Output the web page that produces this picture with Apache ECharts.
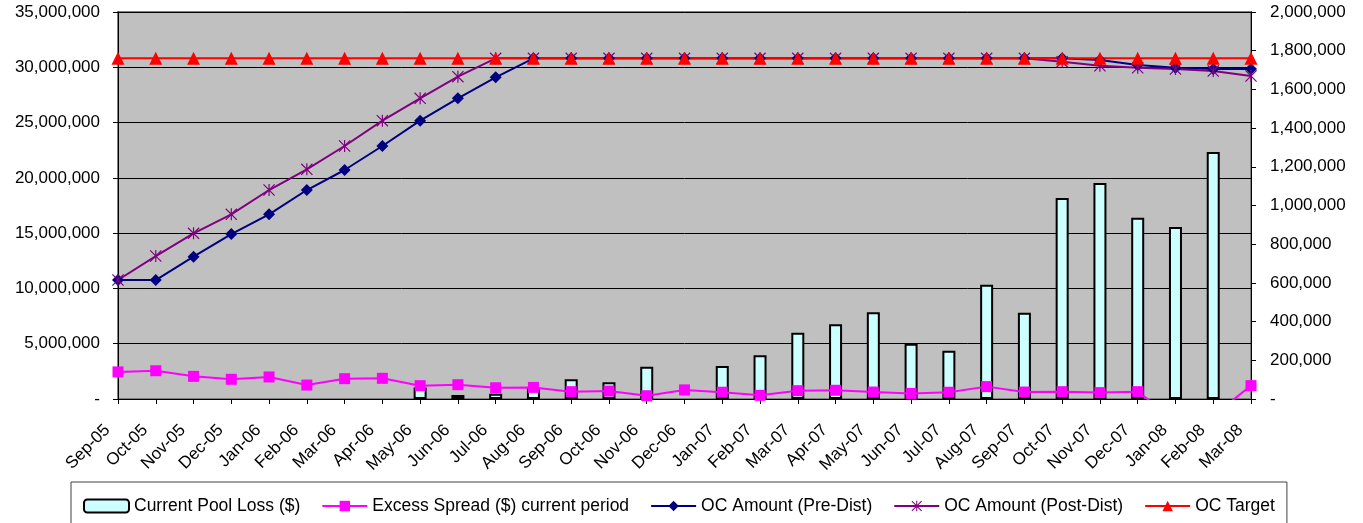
<!DOCTYPE html>
<html>
<head>
<meta charset="utf-8">
<script src="https://cdn.jsdelivr.net/npm/echarts@6/dist/echarts.min.js"></script>
<style>
  html, body { margin: 0; padding: 0; background: #ffffff; }
  #chart { width: 1363px; height: 523px; }
</style>
</head>
<body>
<div id="chart"></div>
<script>
// Monthly reporting periods
const months = [
  'Sep-05', 'Oct-05', 'Nov-05', 'Dec-05', 'Jan-06', 'Feb-06', 'Mar-06', 'Apr-06',
  'May-06', 'Jun-06', 'Jul-06', 'Aug-06', 'Sep-06', 'Oct-06', 'Nov-06', 'Dec-06',
  'Jan-07', 'Feb-07', 'Mar-07', 'Apr-07', 'May-07', 'Jun-07', 'Jul-07', 'Aug-07',
  'Sep-07', 'Oct-07', 'Nov-07', 'Dec-07', 'Jan-08', 'Feb-08', 'Mar-08'
];

// Current pool loss ($), right axis
const poolLoss = [
  null, null, null, null, null, null, null, null,
  60000, 21000, 27000, 58000, 102000, 86000, 167000, null,
  171000, 226000, 343000, 386000, 448000, 286000, 250000, 591000,
  446000, 1039000, 1116000, 937000, 889000, 1276000, null
];

// Excess spread ($) for the current period, right axis
const excessSpread = [
  140000, 146000, 117000, 102000, 114000, 72000, 105000, 107000,
  69000, 74000, 58000, 60000, 38000, 41000, 17000, 47000,
  35000, 19000, 43000, 45000, 36000, 29000, 35000, 64000,
  36000, 38000, 33000, 38000, -110000, -86000, 69000
];

// OC amount before distribution, left axis
const ocPreDist = [
  10760000, 10760000, 12870000, 14920000, 16700000, 18900000, 20710000, 22880000,
  25170000, 27190000, 29090000, 30810000, 30810000, 30810000, 30810000, 30810000,
  30810000, 30810000, 30810000, 30810000, 30810000, 30810000, 30810000, 30810000,
  30810000, 30810000, 30660000, 30210000, 29960000, 29840000, 29840000
];

// OC amount after distribution, left axis
const ocPostDist = [
  10760000, 12930000, 14980000, 16700000, 18900000, 20770000, 22880000, 25170000,
  27190000, 29150000, 30810000, 30810000, 30810000, 30810000, 30810000, 30810000,
  30810000, 30810000, 30810000, 30810000, 30810000, 30810000, 30810000, 30810000,
  30810000, 30510000, 30140000, 29960000, 29840000, 29660000, 29210000
];

// OC target, left axis
const ocTarget = [
  30810000, 30810000, 30810000, 30810000, 30810000, 30810000, 30810000, 30810000,
  30810000, 30810000, 30810000, 30810000, 30810000, 30810000, 30810000, 30810000,
  30810000, 30810000, 30810000, 30810000, 30810000, 30810000, 30810000, 30810000,
  30810000, 30810000, 30810000, 30810000, 30810000, 30810000, 30810000
];

// Axis ranges
const leftAxisRange = { min: 0, max: 35000000, interval: 5000000 };
const rightAxisRange = { min: 0, max: 2000000, interval: 200000 };

const FONT = "'Liberation Sans', Arial, Helvetica, sans-serif";

// Asterisk marker: vertical stroke plus two diagonals
const asterisk = 'path://M9 0L11 0L11 20L9 20Z M0 1.4L1.4 0L20 18.6L18.6 20Z M18.6 0L20 1.4L1.4 20L0 18.6Z';

function fmtAmount(v) {
  if (v === 0) return '-';
  return v.toLocaleString('en-US');
}

const chart = echarts.init(document.getElementById('chart'), null, { renderer: 'canvas' });

chart.setOption({
  animation: false,
  backgroundColor: '#ffffff',
  textStyle: { fontFamily: FONT },
  grid: {
    left: 118, right: 112, top: 12, bottom: 124,
    show: true,
    backgroundColor: '#C0C0C0',
    borderColor: '#808080',
    borderWidth: 2
  },
  legend: {
    left: 71,
    top: 482,
    padding: [15, 12, 14, 12],
    itemGap: 21,
    itemWidth: 45,
    itemHeight: 13,
    borderColor: '#404040',
    borderWidth: 1,
    textStyle: { fontFamily: FONT, fontSize: 17.5, color: '#000' },
    data: [
      'Current Pool Loss ($)',
      'Excess Spread ($) current period',
      'OC Amount (Pre-Dist)',
      'OC Amount (Post-Dist)',
      'OC Target'
    ]
  },
  xAxis: {
    type: 'category',
    data: months,
    boundaryGap: false,
    axisLine: { lineStyle: { color: '#000', width: 1 } },
    axisTick: { show: true, inside: false, length: 5, lineStyle: { color: '#000' } },
    axisLabel: {
      interval: 0,
      rotate: 45,
      margin: 18,
      padding: [0, 15, 0, 0],
      fontFamily: FONT,
      fontSize: 17,
      color: '#000'
    },
    splitLine: { show: false }
  },
  yAxis: [
    {
      type: 'value',
      position: 'left',
      min: leftAxisRange.min,
      max: leftAxisRange.max,
      interval: leftAxisRange.interval,
      axisLine: { show: true, lineStyle: { color: '#000', width: 1 } },
      axisTick: { show: true, inside: false, length: 5, lineStyle: { color: '#000' } },
      axisLabel: {
        margin: 18,
        fontFamily: FONT,
        fontSize: 17,
        color: '#000',
        formatter: fmtAmount
      },
      splitLine: { show: true, lineStyle: { color: '#000', width: 1 } }
    },
    {
      type: 'value',
      position: 'right',
      min: rightAxisRange.min,
      max: rightAxisRange.max,
      interval: rightAxisRange.interval,
      axisLine: { show: true, lineStyle: { color: '#000', width: 1 } },
      axisTick: { show: true, inside: false, length: 5, lineStyle: { color: '#000' } },
      axisLabel: {
        margin: 19,
        fontFamily: FONT,
        fontSize: 17,
        color: '#000',
        formatter: fmtAmount
      },
      splitLine: { show: false }
    }
  ],
  series: [
    {
      name: 'Current Pool Loss ($)',
      type: 'bar',
      yAxisIndex: 1,
      data: poolLoss,
      barWidth: 13,
      itemStyle: { color: '#CCFFFF', borderColor: '#000', borderWidth: 2 }
    },
    {
      name: 'Excess Spread ($) current period',
      type: 'line',
      yAxisIndex: 1,
      data: excessSpread,
      clip: true,
      symbol: 'rect',
      symbolSize: 11,
      showAllSymbol: true,
      lineStyle: { color: '#FF00FF', width: 2 },
      itemStyle: { color: '#FF00FF' }
    },
    {
      name: 'OC Amount (Pre-Dist)',
      type: 'line',
      yAxisIndex: 0,
      data: ocPreDist,
      symbol: 'diamond',
      symbolSize: 12,
      showAllSymbol: true,
      lineStyle: { color: '#000080', width: 2 },
      itemStyle: { color: '#000080' }
    },
    {
      name: 'OC Amount (Post-Dist)',
      type: 'line',
      yAxisIndex: 0,
      data: ocPostDist,
      symbol: asterisk,
      symbolSize: 12,
      showAllSymbol: true,
      lineStyle: { color: '#800080', width: 2 },
      itemStyle: { color: '#800080' }
    },
    {
      name: 'OC Target',
      type: 'line',
      yAxisIndex: 0,
      data: ocTarget,
      symbol: 'triangle',
      symbolSize: 13,
      showAllSymbol: true,
      lineStyle: { color: '#FF0000', width: 2 },
      itemStyle: { color: '#FF0000' }
    }
  ]
});
</script>
</body>
</html>
